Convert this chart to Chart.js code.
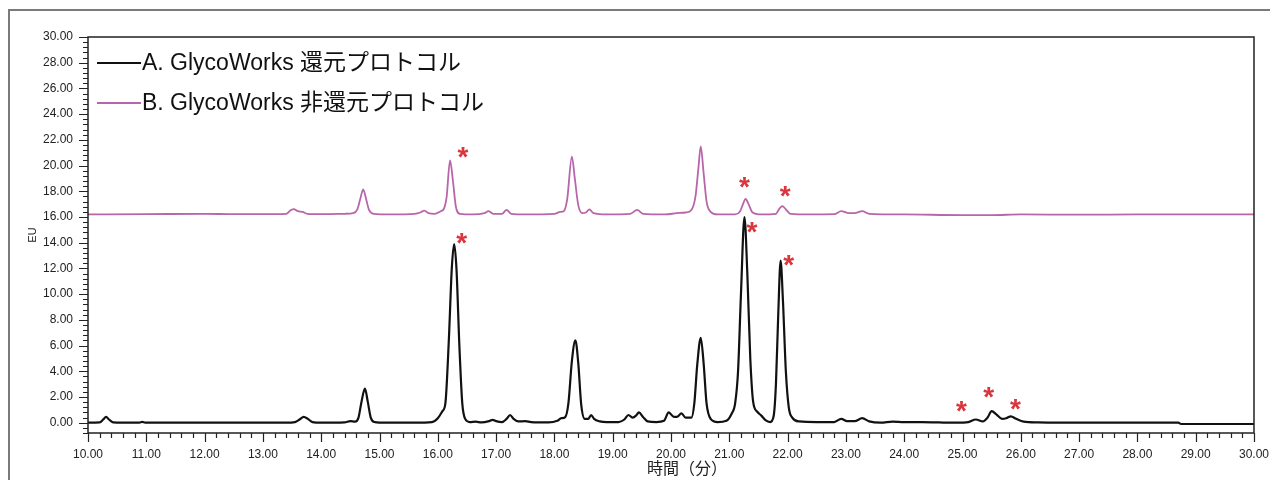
<!DOCTYPE html>
<html lang="ja">
<head>
<meta charset="UTF-8" />
<title>GlycoWorks クロマトグラム</title>
<script src="https://cdn.jsdelivr.net/npm/chart.js"></script>
<style>
  html, body { margin: 0; padding: 0; background: #fff; }
  #wrap { width: 1270px; height: 480px; position: relative; }
</style>
</head>
<body>
<div id="wrap"><canvas id="myChart" width="1270" height="480"></canvas></div>
<script>
// A. 還元プロトコル (black trace)
const timeA = [10.00,10.20,10.26,10.31,10.36,10.43,10.60,10.88,10.93,10.98,11.50,12.50,13.40,13.55,13.63,13.70,13.77,13.85,14.00,14.40,
  14.50,14.58,14.64,14.69,14.75,14.80,14.85,14.92,15.10,15.60,15.90,16.00,16.08,16.13,16.19,16.24,16.28,16.32,16.37,16.42,
  16.47,16.55,16.65,16.75,16.88,16.94,17.00,17.10,17.18,17.24,17.30,17.38,17.50,17.60,17.90,18.05,18.12,18.18,18.24,18.30,
  18.36,18.41,18.46,18.52,18.58,18.63,18.68,18.78,18.90,19.10,19.20,19.27,19.34,19.40,19.45,19.52,19.60,19.75,19.88,19.96,
  20.05,20.10,20.18,20.25,20.35,20.40,20.45,20.51,20.56,20.61,20.68,20.80,20.95,21.04,21.10,21.15,21.20,21.26,21.31,21.36,
  21.41,21.48,21.55,21.62,21.70,21.76,21.80,21.84,21.88,21.92,21.97,22.02,22.08,22.20,22.50,22.80,22.92,23.02,23.15,23.28,
  23.40,23.60,23.80,24.00,24.30,24.60,24.90,25.10,25.23,25.35,25.43,25.50,25.58,25.68,25.75,25.83,25.92,26.05,26.30,26.60,
  27.50,28.70,28.75,30.00];
const euA = [0.00,0.02,0.25,0.45,0.25,0.03,0.00,0.00,0.06,0.00,0.00,0.00,0.00,0.05,0.25,0.45,0.30,0.05,0.00,0.03,
  0.12,0.08,0.40,1.60,2.65,1.60,0.40,0.05,0.00,0.00,0.05,0.35,0.90,1.50,6.50,12.00,13.90,12.00,6.00,1.50,
  0.30,0.05,0.08,0.02,0.12,0.22,0.12,0.05,0.30,0.60,0.30,0.10,0.12,0.05,0.02,0.15,0.35,0.40,1.50,4.80,
  6.40,4.60,1.40,0.30,0.30,0.60,0.30,0.10,0.05,0.05,0.25,0.60,0.40,0.55,0.80,0.45,0.10,0.05,0.15,0.80,
  0.45,0.45,0.72,0.40,0.40,1.50,4.50,6.60,4.60,1.50,0.30,0.05,0.15,0.70,1.50,4.00,10.00,16.00,11.50,5.00,
  1.60,0.85,0.55,0.20,0.05,0.50,3.00,8.50,12.60,9.50,4.00,1.20,0.40,0.10,0.05,0.05,0.30,0.12,0.12,0.35,
  0.10,0.00,0.08,0.05,0.05,0.02,0.00,0.05,0.25,0.10,0.40,0.90,0.65,0.30,0.35,0.50,0.30,0.08,0.02,0.00,
  0.00,0.00,-0.10,-0.10];

// B. 非還元プロトコル (pink trace)
const timeB = [10.00,11.00,12.00,12.50,13.00,13.40,13.47,13.53,13.60,13.68,13.76,14.00,14.40,14.55,14.62,14.67,14.72,14.77,14.82,14.90,
  15.20,15.60,15.70,15.77,15.84,15.95,16.05,16.10,16.15,16.21,16.26,16.31,16.38,16.60,16.80,16.87,16.95,17.10,17.18,17.26,
  17.50,18.00,18.10,18.16,18.22,18.30,18.35,18.41,18.48,18.54,18.60,18.67,18.90,19.30,19.42,19.52,19.90,20.10,20.25,20.35,
  20.42,20.47,20.51,20.56,20.61,20.68,20.80,21.10,21.18,21.23,21.28,21.33,21.40,21.55,21.80,21.86,21.91,21.97,22.05,22.40,
  22.80,22.92,23.05,23.15,23.28,23.40,24.00,25.00,25.50,26.00,27.00,28.00,30.00];
const euB = [16.20,16.22,16.25,16.22,16.22,16.25,16.50,16.62,16.45,16.40,16.25,16.22,16.25,16.30,16.60,17.40,18.15,17.40,16.55,16.25,
  16.20,16.25,16.35,16.50,16.30,16.25,16.45,16.60,17.50,20.40,18.80,16.80,16.25,16.20,16.30,16.45,16.25,16.25,16.55,16.25,
  16.20,16.25,16.40,16.45,17.40,20.70,19.00,16.90,16.30,16.35,16.60,16.30,16.20,16.25,16.55,16.25,16.20,16.30,16.35,16.55,
  17.60,19.80,21.50,19.40,17.20,16.40,16.20,16.20,16.40,16.95,17.40,17.00,16.35,16.20,16.25,16.65,16.85,16.60,16.25,16.20,
  16.22,16.45,16.30,16.30,16.45,16.25,16.20,16.15,16.15,16.20,16.18,16.20,16.20];

// red asterisk marks (glyph centre, in data units)
const starTime = [16.43, 16.41, 21.26, 21.96, 21.39, 22.02, 24.98, 25.45, 25.91];
const starEU   = [20.98, 14.32, 18.65, 18.02, 15.22, 12.63, 1.27, 2.33, 1.42];

const xTickVals = [10,11,12,13,14,15,16,17,18,19,20,21,22,23,24,25,26,27,28,29,30];
const yTickVals = [0,2,4,6,8,10,12,14,16,18,20,22,24,26,28,30];

const legendNames = ["A. GlycoWorks 還元プロトコル", "B. GlycoWorks 非還元プロトコル"];
const xTitle = "時間（分）";
const yTitle = "EU";

const colA = "#111111";
const colB = "#b866a9";
const colStar = "#d9363e";
const fontLatin = "'Liberation Sans', Arial, 'Noto Sans CJK JP', sans-serif";

const toPts = (xs, ys) => xs.map((x, i) => ({ x: x, y: ys[i] }));

const decor = {
  id: "decor",
  beforeDraw(chart) {
    const ctx = chart.ctx;
    ctx.save();
    ctx.fillStyle = "#fff";
    ctx.fillRect(0, 0, chart.width, chart.height);
    ctx.restore();
  },
  afterDraw(chart) {
    const ctx = chart.ctx;
    const a = chart.chartArea;
    const xs = chart.scales.x;
    const ys = chart.scales.y;
    ctx.save();

    // outer frame
    ctx.strokeStyle = "#7a7a7a";
    ctx.lineWidth = 2;
    ctx.strokeRect(9, 10, 1300, 500);

    // plot box
    ctx.strokeStyle = "#222";
    ctx.lineWidth = 1.5;
    ctx.beginPath();
    ctx.moveTo(a.left, a.bottom);
    ctx.lineTo(a.left, a.top);
    ctx.lineTo(a.right, a.top);
    ctx.lineTo(a.right, a.bottom);
    ctx.lineTo(a.left, a.bottom);
    ctx.stroke();

    // tick marks
    ctx.lineWidth = 1.2;
    ctx.strokeStyle = "#222";
    ctx.beginPath();
    for (let i = 0; i <= 100; i++) {
      const px = Math.round(xs.getPixelForValue(10 + i * 0.2)) + 0.5;
      const len = i % 5 === 0 ? 9 : 5;
      ctx.moveTo(px, a.bottom);
      ctx.lineTo(px, a.bottom + len);
    }
    for (let i = -2; i <= 75; i++) {
      const py = Math.round(ys.getPixelForValue(i * 0.4)) + 0.5;
      const len = i % 5 === 0 ? 9 : 5;
      ctx.moveTo(a.left, py);
      ctx.lineTo(a.left - len, py);
    }
    ctx.stroke();

    // legend
    const legCols = [colA, colB];
    ctx.font = "23px " + fontLatin;
    ctx.textBaseline = "middle";
    ctx.textAlign = "left";
    legendNames.forEach((name, i) => {
      const y = 63 + i * 40;
      ctx.strokeStyle = legCols[i];
      ctx.lineWidth = 2;
      ctx.beginPath();
      ctx.moveTo(97, y);
      ctx.lineTo(141, y);
      ctx.stroke();
      ctx.fillStyle = "#111";
      ctx.fillText(name, 142, y + 1);
    });

    // asterisks
    ctx.font = "bold 28px " + fontLatin;
    ctx.fillStyle = colStar;
    ctx.textAlign = "center";
    ctx.textBaseline = "alphabetic";
    const m = ctx.measureText("*");
    const mid = (m.actualBoundingBoxAscent - m.actualBoundingBoxDescent) / 2;
    starTime.forEach((t, i) => {
      ctx.fillText("*", xs.getPixelForValue(t), ys.getPixelForValue(starEU[i]) + mid);
    });

    // axis titles
    ctx.fillStyle = "#222";
    ctx.font = "16px " + fontLatin;
    ctx.textAlign = "center";
    ctx.textBaseline = "middle";
    ctx.fillText(xTitle, (a.left + a.right) / 2 + 16, 470);
    ctx.font = "11px " + fontLatin;
    ctx.translate(33, (a.top + a.bottom) / 2);
    ctx.rotate(-Math.PI / 2);
    ctx.fillText(yTitle, 0, 0);
    ctx.restore();
  }
};

new Chart(document.getElementById("myChart"), {
  type: "scatter",
  data: {
    datasets: [
      {
        label: legendNames[0],
        data: toPts(timeA, euA),
        showLine: true,
        borderColor: colA,
        borderWidth: 2.2,
        pointRadius: 0,
        cubicInterpolationMode: "monotone",
        order: 0
      },
      {
        label: legendNames[1],
        data: toPts(timeB, euB),
        showLine: true,
        borderColor: colB,
        borderWidth: 1.8,
        pointRadius: 0,
        cubicInterpolationMode: "monotone",
        order: 1
      }
    ]
  },
  options: {
    responsive: false,
    animation: false,
    layout: { padding: { left: 0, right: 16, top: 37, bottom: 0 } },
    plugins: { legend: { display: false }, tooltip: { enabled: false } },
    scales: {
      x: {
        type: "linear",
        min: 10,
        max: 30,
        afterBuildTicks: (s) => { s.ticks = xTickVals.map((v) => ({ value: v })); },
        afterFit: (s) => { s.height = 47; s.paddingLeft = 0; s.paddingRight = 0; },
        grid: { display: false },
        border: { display: false },
        ticks: {
          padding: 6,
          color: "#222",
          font: { family: fontLatin, size: 12 },
          maxRotation: 0,
          autoSkip: false,
          callback: (v) => Number(v).toFixed(2)
        }
      },
      y: {
        type: "linear",
        min: -0.8,
        max: 30,
        afterBuildTicks: (s) => { s.ticks = yTickVals.map((v) => ({ value: v })); },
        afterFit: (s) => { s.width = 88; s.paddingTop = 0; s.paddingBottom = 0; },
        grid: { display: false },
        border: { display: false },
        ticks: {
          padding: 7,
          color: "#222",
          font: { family: fontLatin, size: 12 },
          autoSkip: false,
          callback: (v) => Number(v).toFixed(2)
        }
      }
    }
  },
  plugins: [decor]
});
</script>
</body>
</html>
